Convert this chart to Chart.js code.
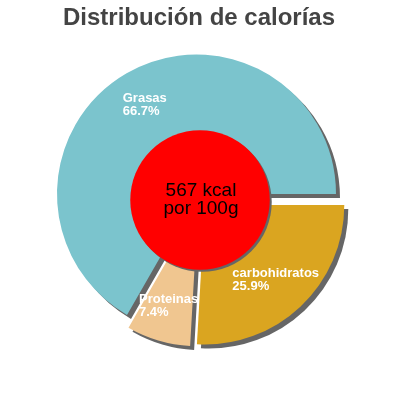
<!DOCTYPE html>
<html>
<head>
<meta charset="utf-8">
<script src="https://cdn.jsdelivr.net/npm/chart.js@4"></script>
<style>
html,body{margin:0;padding:0;background:#fff;}
#wrap{width:400px;height:400px;}
</style>
</head>
<body>
<div id="wrap"><canvas id="c" width="400" height="400"></canvas></div>
<script>
const TITLE = 'Distribución de calorías';
const CATEGORIES = ['carbohidratos', 'Proteinas', 'Grasas'];
const VALUES = [25.9, 7.4, 66.7];
const COLORS = ['#daa520', '#f0c690', '#7bc4cd'];
const CENTER_LINES = ['567 kcal', 'por 100g'];

const EXPLODE = 7; // px each slice is pulled out along its bisector

const shadowPlugin = {
  id: 'shadows',
  beforeDatasetDraw(chart, args) {
    const ctx = chart.ctx;
    const arcs = args.meta.data;
    arcs.forEach((arc) => {
      const mid = (arc.startAngle + arc.endAngle) / 2;
      ctx.save();
      ctx.translate(Math.cos(mid) * EXPLODE, Math.sin(mid) * EXPLODE);
      ctx.shadowColor = '#666666';
      ctx.shadowOffsetX = 4;
      ctx.shadowOffsetY = 4;
      ctx.shadowBlur = 0;
      arc.draw(ctx);
      ctx.restore();
    });
    return false;
  },
  afterDatasetsDraw(chart) {
    const ctx = chart.ctx;
    const meta = chart.getDatasetMeta(0);
    const arcs = meta.data;
    const cx = arcs[0].x, cy = arcs[0].y;
    const R = arcs[0].outerRadius;
    // center circle
    ctx.save();
    ctx.shadowColor = '#666666';
    ctx.shadowOffsetX = 2;
    ctx.shadowOffsetY = 2;
    ctx.shadowBlur = 0;
    ctx.beginPath();
    ctx.arc(cx, cy, R * 0.5, 0, Math.PI * 2);
    ctx.fillStyle = '#ff0000';
    ctx.fill();
    ctx.restore();
    // center text
    ctx.save();
    ctx.fillStyle = '#000';
    ctx.font = '19px "Liberation Sans", Arial, sans-serif';
    ctx.textAlign = 'center';
    ctx.textBaseline = 'middle';
    const lh = 18;
    CENTER_LINES.forEach((t, i) => {
      ctx.fillText(t, cx + 1, cy - lh / 2 + i * lh);
    });
    ctx.restore();
    // slice labels
    ctx.save();
    ctx.fillStyle = '#ffffff';
    ctx.font = 'bold 13px "Liberation Sans", Arial, sans-serif';
    ctx.textAlign = 'left';
    ctx.textBaseline = 'top';
    const total = VALUES.reduce((a, b) => a + b, 0);
    arcs.forEach((arc, i) => {
      const mid = (arc.startAngle + arc.endAngle) / 2;
      const r = R * 0.74 + EXPLODE;
      const px = cx + Math.cos(mid) * r;
      const py = cy + Math.sin(mid) * r;
      const lines = [CATEGORIES[i], (VALUES[i] / total * 100).toFixed(1) + '%'];
      const w = Math.max(...lines.map(l => ctx.measureText(l).width));
      const lineH = 13;
      const h = lines.length * lineH;
      lines.forEach((l, j) => {
        ctx.fillText(l, px - w / 2, py - h / 2 + j * lineH);
      });
    });
    ctx.restore();
  },
  afterDraw(chart) {
    const ctx = chart.ctx;
    ctx.save();
    ctx.fillStyle = '#444444';
    ctx.font = 'bold 24px "Liberation Sans", Arial, sans-serif';
    ctx.textAlign = 'center';
    ctx.textBaseline = 'alphabetic';
    ctx.fillText(TITLE, 199, 25);
    ctx.restore();
  }
};

new Chart(document.getElementById('c'), {
  type: 'pie',
  data: {
    labels: CATEGORIES,
    datasets: [{
      data: VALUES,
      backgroundColor: COLORS,
      borderWidth: 0,
      offset: 0
    }]
  },
  options: {
    responsive: false,
    animation: false,
    rotation: 90,
    radius: 139.5,
    layout: { padding: 0 },
    plugins: {
      legend: { display: false },
      tooltip: { enabled: false },
      title: { display: false }
    }
  },
  plugins: [shadowPlugin]
});
</script>
</body>
</html>
